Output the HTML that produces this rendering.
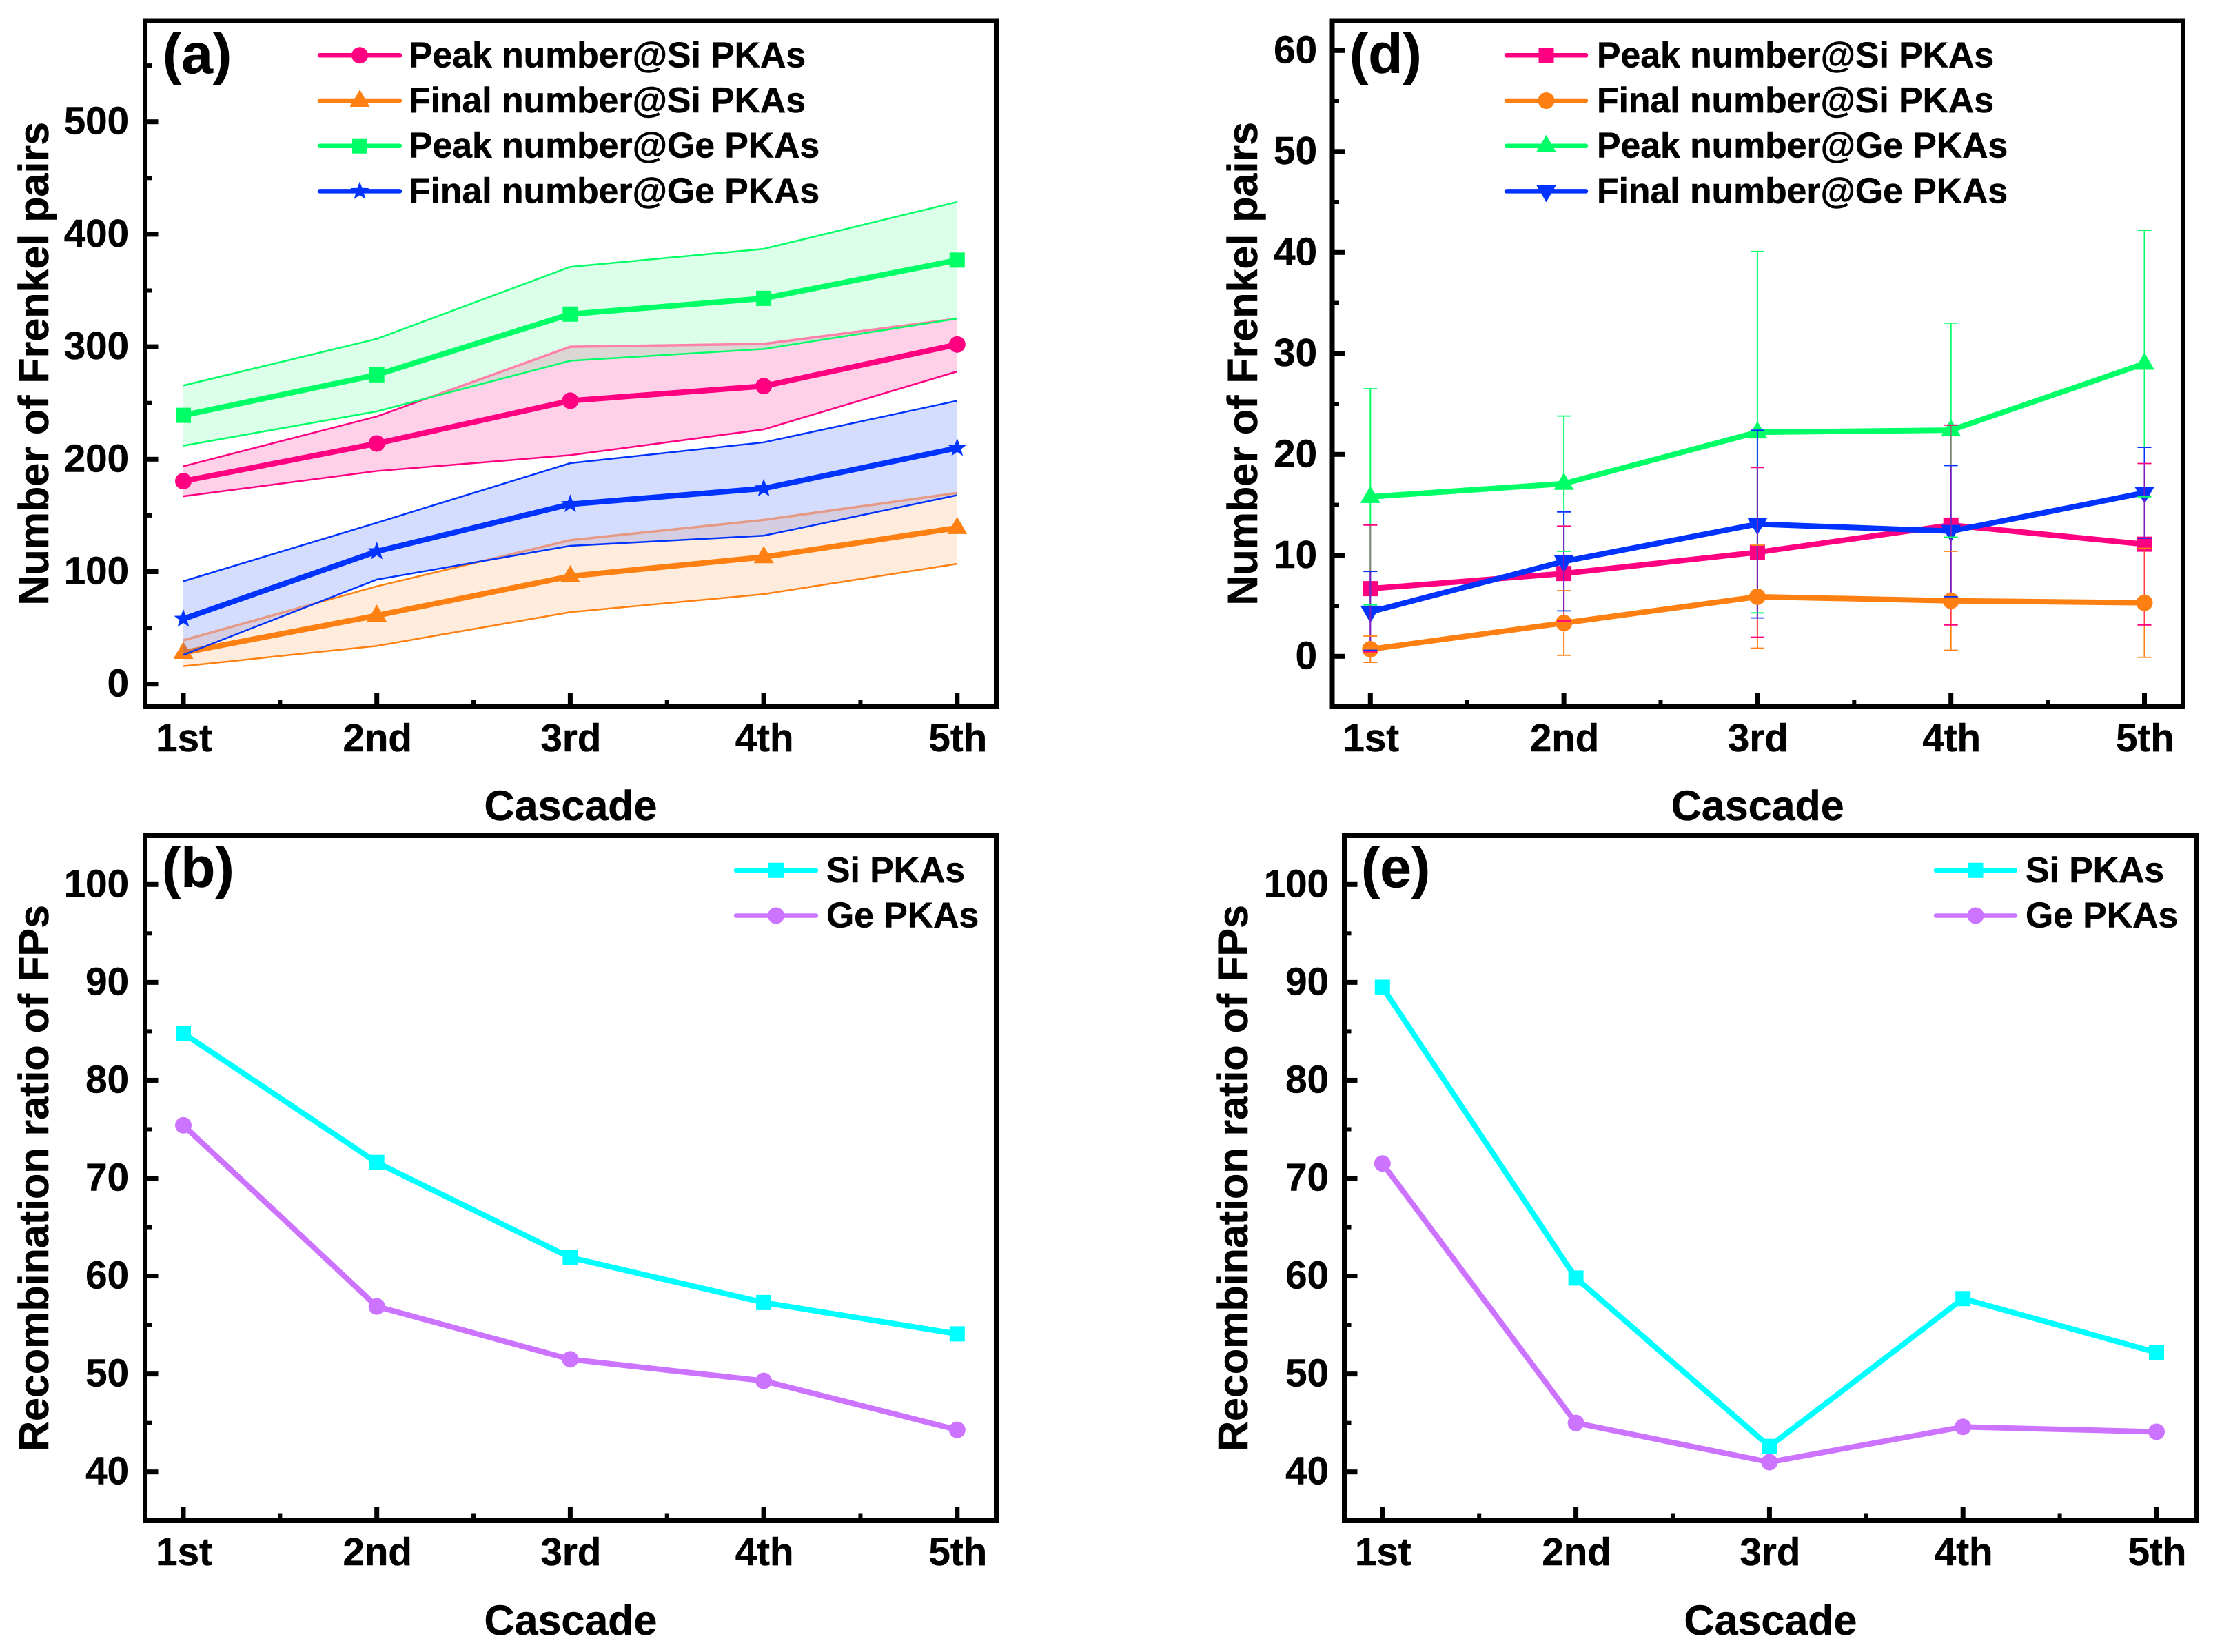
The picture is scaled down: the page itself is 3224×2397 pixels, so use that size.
<!DOCTYPE html>
<html lang="en">
<head>
<meta charset="utf-8">
<title>Frenkel pairs and recombination ratio by cascade</title>
<style>
html,body{margin:0;padding:0;background:#fff;}
svg{display:block;}
text{font-family:"Liberation Sans",Arial,sans-serif;font-weight:bold;fill:#000;stroke:#000;stroke-width:0.5px;}
</style>
</head>
<body>
<svg id="figure" xmlns="http://www.w3.org/2000/svg" width="3224" height="2397" viewBox="0 0 3224 2397"></svg>
<script>
// ---- Shared categories ----
const categories = ['1st', '2nd', '3rd', '4th', '5th'];

// ---- Panel (a) values ----
const aPeakSi = [180.5, 214, 252, 265, 302];
const aPeakSiUpper = [193.7, 238, 300, 302.5, 325];
const aPeakSiLower = [167, 189.5, 203.6, 226.5, 278];
const aFinalSi = [28, 61, 96, 113, 139];
const aFinalSiUpper = [39, 87, 128, 146, 170];
const aFinalSiLower = [16, 34, 64, 80, 107];
const aPeakGe = [239, 275, 329, 343, 377];
const aPeakGeUpper = [265.5, 307, 371, 387, 428.7];
const aPeakGeLower = [212, 242.5, 287.5, 298, 325];
const aFinalGe = [58, 118, 160, 174, 210];
const aFinalGeUpper = [91.5, 143.5, 196.5, 215, 252];
const aFinalGeLower = [26, 93, 123, 132, 168];
const aMajorTicks = [0, 100, 200, 300, 400, 500];
const aMinorTicks = [50, 150, 250, 350, 450, 550];

// ---- Panel (d) values ----
const dPeakSi = [6.7, 8.2, 10.3, 13, 11.1];
const dPeakSiUpper = [13, 12.9, 18.7, 22.9, 19.1];
const dPeakSiLower = [0.45, 3.5, 1.9, 3.1, 3.1];
const dFinalSi = [0.7, 3.3, 5.9, 5.5, 5.3];
const dFinalSiUpper = [2, 6.5, 11, 10.4, 10.7];
const dFinalSiLower = [-0.6, 0.1, 0.8, 0.6, -0.1];
const dPeakGe = [15.8, 17.1, 22.2, 22.4, 29];
const dPeakGeUpper = [26.5, 23.8, 40.1, 33, 42.2];
const dPeakGeLower = [5.1, 10.4, 4.3, 11.8, 15.8];
const dFinalGe = [4.4, 9.4, 13.1, 12.4, 16.2];
const dFinalGeUpper = [8.4, 14.3, 22.4, 18.9, 20.7];
const dFinalGeLower = [0.6, 4.5, 3.8, 5.9, 11.7];
const dMajorTicks = [0, 10, 20, 30, 40, 50, 60];
const dMinorTicks = [5, 15, 25, 35, 45, 55];

// ---- Panel (b) values ----
const bSi = [84.8, 71.6, 61.9, 57.3, 54.1];
const bGe = [75.4, 56.9, 51.5, 49.3, 44.3];

// ---- Panel (e) values ----
const eSi = [89.5, 59.8, 42.6, 57.7, 52.2];
const eGe = [71.5, 45, 41, 44.6, 44.1];

const ratioMajorTicks = [40, 50, 60, 70, 80, 90, 100];
const ratioMinorTicks = [45, 55, 65, 75, 85, 95];

// ---- Colours ----
const PINK = '#ff0080', ORANGE = '#ff8012', GREEN = '#00ff66', BLUE = '#0033ff', CYAN = '#00ffff', PURPLE = '#cc73ff';

const SVGNS = 'http://www.w3.org/2000/svg';
const root = document.getElementById('figure');

function make(parent, tag, name, attrs, content) {
  const el = document.createElementNS(SVGNS, tag);
  
  
  for (const k in attrs) el.setAttribute(k, attrs[k]);
  if (content !== undefined) el.textContent = content;
  parent.appendChild(el);
  return el;
}

function markerPath(shape, cx, cy) {
  if (shape === 'square') {
    return `M${cx - 11} ${cy - 11}H${cx + 11}V${cy + 11}H${cx - 11}Z`;
  }
  if (shape === 'triangle') {
    return `M${cx} ${cy - 16}L${cx + 14.5} ${cy + 9}H${cx - 14.5}Z`;
  }
  if (shape === 'down') {
    return `M${cx} ${cy + 16}L${cx + 14.5} ${cy - 9}H${cx - 14.5}Z`;
  }
  if (shape === 'star') {
    let d = '';
    for (let k = 0; k < 10; k++) {
      const r = k % 2 ? 5.8 : 14.2;
      const a = -Math.PI / 2 + k * Math.PI / 5;
      d += (k ? 'L' : 'M') + (cx + r * Math.cos(a)).toFixed(2) + ' ' + (cy + r * Math.sin(a)).toFixed(2);
    }
    return d + 'Z';
  }
  return `M${cx - 12} ${cy}A12 12 0 1 1 ${cx + 12} ${cy}A12 12 0 1 1 ${cx - 12} ${cy}Z`;
}

function linePoints(values, sx, sy) {
  return values.map((v, i) => sx(i).toFixed(2) + ',' + sy(v).toFixed(2)).join(' ');
}

function drawMeanSeries(group, key, values, color, shape, sx, sy) {
  make(group, 'polyline', key + '-line', {points: linePoints(values, sx, sy), fill: 'none', stroke: color, 'stroke-width': 8, 'stroke-linejoin': 'miter'});
  values.forEach((v, i) => {
    make(group, 'path', key + '-point-' + categories[i], {d: markerPath(shape, sx(i), sy(v)), fill: color});
  });
}

// "covered" is an earlier band edge that shows up washed out where this band lies over it.
function drawBand(group, key, mean, upper, lower, color, alpha, shape, sx, sy, covered) {
  const up = linePoints(upper, sx, sy);
  const low = lower.map((v, i) => [sx(i).toFixed(2), sy(v).toFixed(2)].join(',')).reverse().join(' ');
  make(group, 'polygon', key + '-band', {points: up + ' ' + low, fill: color, 'fill-opacity': alpha, stroke: 'none'});
  if (covered) {
    const clip = make(group, 'clipPath', key + '-band-clip', {id: key + '-band-clip'});
    make(clip, 'polygon', key + '-band-clip-shape', {points: up + ' ' + low});
    make(group, 'polyline', key + '-covered-edge', {points: linePoints(covered.values, sx, sy), fill: 'none', stroke: covered.color, 'stroke-width': 3.5, 'clip-path': 'url(#' + key + '-band-clip)'});
  }
  make(group, 'polyline', key + '-upper-line', {points: up, fill: 'none', stroke: color, 'stroke-width': 2.5});
  make(group, 'polyline', key + '-lower-line', {points: linePoints(lower, sx, sy), fill: 'none', stroke: color, 'stroke-width': 2.5});
  drawMeanSeries(group, key, mean, color, shape, sx, sy);
}

function drawErrorStems(group, key, upper, lower, color, opacity, sx, sy) {
  upper.forEach((u, i) => {
    make(group, 'line', key + '-error-stem-' + categories[i], {x1: sx(i), x2: sx(i), y1: sy(u), y2: sy(lower[i]), stroke: color, 'stroke-width': 2, 'stroke-opacity': opacity});
  });
}

function drawErrorCaps(group, key, upper, lower, color, sx, sy) {
  upper.forEach((u, i) => {
    [u, lower[i]].forEach((v, j) => {
      make(group, 'line', key + (j ? '-error-cap-low-' : '-error-cap-high-') + categories[i], {x1: sx(i) - 10, x2: sx(i) + 10, y1: sy(v), y2: sy(v), stroke: color, 'stroke-width': 1.8});
    });
  });
}

function drawAxes(group, p, sx, sy, major, minor) {
  major.forEach(v => {
    make(group, 'rect', 'y-major-tick-' + v, {x: p.l, y: sy(v) - 3.5, width: 19, height: 7, fill: '#000'});
    make(group, 'text', 'y-tick-label-' + v, {x: p.yLabelX, y: sy(v) + 18, 'text-anchor': 'end', 'font-size': 56.5}, String(v));
  });
  minor.forEach(v => {
    make(group, 'rect', 'y-minor-tick-' + v, {x: p.l, y: sy(v) - 3, width: 10, height: 6, fill: '#000'});
  });
  categories.forEach((c, i) => {
    make(group, 'rect', 'x-major-tick-' + c, {x: sx(i) - 3.5, y: p.b - 19.5, width: 7, height: 19.5, fill: '#000'});
    make(group, 'text', 'x-tick-label-' + c, {x: sx(i) + 1, y: p.xLabelY, 'text-anchor': 'middle', 'font-size': 56.5}, c);
    if (i < categories.length - 1) {
      make(group, 'rect', 'x-minor-tick-' + c, {x: sx(i + 0.5) - 3, y: p.b - 10, width: 6, height: 10, fill: '#000'});
    }
  });
  make(group, 'rect', 'plot-frame', {x: p.l, y: p.t, width: p.r - p.l, height: p.b - p.t, fill: 'none', stroke: '#000', 'stroke-width': 7});
  make(group, 'text', 'x-axis-title', {x: (p.l + p.r) / 2, y: p.titleY, 'text-anchor': 'middle', 'font-size': 61}, 'Cascade');
  const cy = (p.t + p.b) / 2;
  make(group, 'text', 'y-axis-title', {x: p.yTitleX, y: cy, 'text-anchor': 'middle', 'font-size': 61, transform: `rotate(-90 ${p.yTitleX} ${cy})`}, p.yTitle);
  make(group, 'text', 'panel-label', {x: p.labelX, y: p.labelY, 'font-size': 82}, p.label);
}

function drawLegend(group, p, entries) {
  const legend = make(group, 'g', 'legend', {});
  entries.forEach((e, i) => {
    const y = p.t + 50.3 + i * 65.7;
    const row = make(legend, 'g', 'legend-entry-' + e.key, {});
    make(row, 'line', 'legend-line-' + e.key, {x1: p.legendX1, x2: p.legendX2, y1: y, y2: y, stroke: e.color, 'stroke-width': 6.5, 'stroke-linecap': 'round'});
    make(row, 'path', 'legend-marker-' + e.key, {d: markerPath(e.shape, (p.legendX1 + p.legendX2) / 2, y), fill: e.color});
    make(row, 'text', 'legend-label-' + e.key, {x: p.legendTextX, y: y + 17, 'font-size': 51.7}, e.label);
  });
}

function scales(p) {
  const sx = i => p.x0 + i * p.xStep;
  const sy = v => p.py0 + (v - p.v0) * (p.py1 - p.py0) / (p.v1 - p.v0);
  return {sx, sy};
}

// ---- Panel (a) ----
(function () {
  const p = {l: 210.5, r: 1445.5, t: 30, b: 1025.5, x0: 266, xStep: 280.7, v0: 0, py0: 992.7, v1: 500, py1: 176.7,
    yLabelX: 187, xLabelY: 1090, titleY: 1190, yTitleX: 70, yTitle: 'Number of Frenkel pairs', label: '(a)', labelX: 236, labelY: 106,
    legendX1: 464, legendX2: 580, legendTextX: 593};
  const {sx, sy} = scales(p);
  const g = make(root, 'g', 'panel-a-frenkel-si-ge-chart', {});
  drawBand(g, 'peak-si', aPeakSi, aPeakSiUpper, aPeakSiLower, PINK, 0.18, 'circle', sx, sy);
  drawBand(g, 'final-si', aFinalSi, aFinalSiUpper, aFinalSiLower, ORANGE, 0.15, 'triangle', sx, sy);
  drawBand(g, 'peak-ge', aPeakGe, aPeakGeUpper, aPeakGeLower, GREEN, 0.14, 'square', sx, sy, {values: aPeakSiUpper, color: '#ff80a8'});
  drawBand(g, 'final-ge', aFinalGe, aFinalGeUpper, aFinalGeLower, BLUE, 0.165, 'star', sx, sy, {values: aFinalSiUpper, color: '#e59a85'});
  drawAxes(g, p, sx, sy, aMajorTicks, aMinorTicks);
  drawLegend(g, p, [
    {key: 'peak-si', label: 'Peak number@Si PKAs', color: PINK, shape: 'circle'},
    {key: 'final-si', label: 'Final number@Si PKAs', color: ORANGE, shape: 'triangle'},
    {key: 'peak-ge', label: 'Peak number@Ge PKAs', color: GREEN, shape: 'square'},
    {key: 'final-ge', label: 'Final number@Ge PKAs', color: BLUE, shape: 'star'}
  ]);
})();

// ---- Panel (d) ----
(function () {
  const p = {l: 1933, r: 3167.5, t: 30, b: 1025.5, x0: 1988.3, xStep: 280.8, v0: 0, py0: 952.3, v1: 60, py1: 73.3,
    yLabelX: 1911, xLabelY: 1090, titleY: 1190, yTitleX: 1824, yTitle: 'Number of Frenkel pairs', label: '(d)', labelX: 1958, labelY: 106,
    legendX1: 2186, legendX2: 2301, legendTextX: 2317};
  const {sx, sy} = scales(p);
  const g = make(root, 'g', 'panel-d-frenkel-errorbar-chart', {});
  drawMeanSeries(g, 'peak-si', dPeakSi, PINK, 'square', sx, sy);
  drawMeanSeries(g, 'peak-ge', dPeakGe, GREEN, 'triangle', sx, sy);
  drawMeanSeries(g, 'final-ge', dFinalGe, BLUE, 'down', sx, sy);
  drawErrorStems(g, 'peak-ge', dPeakGeUpper, dPeakGeLower, GREEN, 1, sx, sy);
  drawErrorStems(g, 'final-si', dFinalSiUpper, dFinalSiLower, ORANGE, 1, sx, sy);
  drawErrorStems(g, 'final-ge', dFinalGeUpper, dFinalGeLower, BLUE, 1, sx, sy);
  drawErrorStems(g, 'peak-si', dPeakSiUpper, dPeakSiLower, PINK, 0.5, sx, sy);
  drawMeanSeries(g, 'final-si', dFinalSi, ORANGE, 'circle', sx, sy);
  drawErrorCaps(g, 'peak-ge', dPeakGeUpper, dPeakGeLower, GREEN, sx, sy);
  drawErrorCaps(g, 'final-si', dFinalSiUpper, dFinalSiLower, ORANGE, sx, sy);
  drawErrorCaps(g, 'final-ge', dFinalGeUpper, dFinalGeLower, BLUE, sx, sy);
  drawErrorCaps(g, 'peak-si', dPeakSiUpper, dPeakSiLower, PINK, sx, sy);
  drawAxes(g, p, sx, sy, dMajorTicks, dMinorTicks);
  drawLegend(g, p, [
    {key: 'peak-si', label: 'Peak number@Si PKAs', color: PINK, shape: 'square'},
    {key: 'final-si', label: 'Final number@Si PKAs', color: ORANGE, shape: 'circle'},
    {key: 'peak-ge', label: 'Peak number@Ge PKAs', color: GREEN, shape: 'triangle'},
    {key: 'final-ge', label: 'Final number@Ge PKAs', color: BLUE, shape: 'down'}
  ]);
})();

// ---- Panels (b) and (e) ----
function drawRatioPanel(name, p, si, ge) {
  const {sx, sy} = scales(p);
  const g = make(root, 'g', name, {});
  drawMeanSeries(g, 'si-pkas', si, CYAN, 'square', sx, sy);
  drawMeanSeries(g, 'ge-pkas', ge, PURPLE, 'circle', sx, sy);
  drawAxes(g, p, sx, sy, ratioMajorTicks, ratioMinorTicks);
  drawLegend(g, p, [
    {key: 'si-pkas', label: 'Si PKAs', color: CYAN, shape: 'square'},
    {key: 'ge-pkas', label: 'Ge PKAs', color: PURPLE, shape: 'circle'}
  ]);
}

drawRatioPanel('panel-b-recombination-chart',
  {l: 210.5, r: 1445.5, t: 1212.5, b: 2206.5, x0: 266, xStep: 280.7, v0: 40, py0: 2135.7, v1: 100, py1: 1283.3,
    yLabelX: 187, xLabelY: 2271, titleY: 2372, yTitleX: 70, yTitle: 'Recombination ratio of FPs', label: '(b)', labelX: 235, labelY: 1287,
    legendX1: 1068, legendX2: 1184, legendTextX: 1199}, bSi, bGe);

drawRatioPanel('panel-e-recombination-chart',
  {l: 1950.5, r: 3187.5, t: 1212.5, b: 2206.5, x0: 2005.8, xStep: 280.8, v0: 40, py0: 2135.7, v1: 100, py1: 1283.3,
    yLabelX: 1928, xLabelY: 2271, titleY: 2372, yTitleX: 1810, yTitle: 'Recombination ratio of FPs', label: '(e)', labelX: 1975, labelY: 1287,
    legendX1: 2809, legendX2: 2924, legendTextX: 2939}, eSi, eGe);
</script>
</body>
</html>
